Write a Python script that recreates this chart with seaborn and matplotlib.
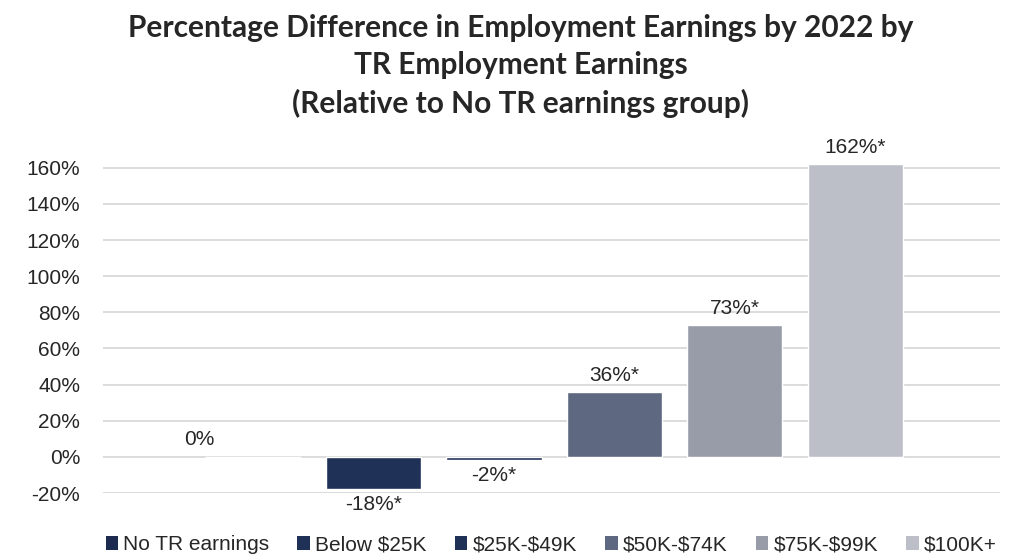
import matplotlib
matplotlib.use('Agg')
import matplotlib.pyplot as plt
import seaborn as sns
import pandas as pd
from matplotlib.patches import Patch

# Data
groups = ['No TR earnings', 'Below $25K', '$25K-$49K', '$50K-$74K', '$75K-$99K', '$100K+']
pct_diff = [0.0, -0.18, -0.02, 0.36, 0.73, 1.62]
bar_labels = ['0%', '-18%*', '-2%*', '36%*', '73%*', '162%*']
colors = ['#1C2B4F', '#1F3157', '#1F3157', '#5E6880', '#989BA8', '#BCBFC8']

df = pd.DataFrame({'group': groups, 'value': pct_diff})

sns.set_style('white')
plt.rcParams['font.family'] = ['Liberation Sans', 'DejaVu Sans']
plt.rcParams['text.parse_math'] = False

fig = plt.figure(figsize=(10.15, 5.56), dpi=100)
ax = fig.add_axes([0.101, 0.1133, 0.884, 0.6173])

sns.barplot(data=df, x='group', y='value', hue='group', palette=colors,
            width=0.79, legend=False, ax=ax, saturation=1)

ax.set_ylim(-0.2, 1.7)
ax.set_xlim(-1.25, 6.2)
ax.set_yticks([-0.2, 0, 0.2, 0.4, 0.6, 0.8, 1.0, 1.2, 1.4, 1.6])
ax.set_yticklabels([f'{round(t * 100)}%' for t in ax.get_yticks()], fontsize=15)
ax.set_xticks([])
ax.set_xlabel('')
ax.set_ylabel('')
ax.grid(axis='y', color='#D9D9D9', linewidth=1.3)
ax.set_axisbelow(True)
ax.tick_params(axis='y', length=0, pad=16)
sns.despine(ax=ax, left=True, bottom=True)

# Value labels
for i, (p, lab) in enumerate(zip(ax.patches, bar_labels)):
    xc = p.get_x() + p.get_width() / 2
    v = pct_diff[i]
    if v > 0:
        ax.annotate(lab, (xc, v), xytext=(0, 5), textcoords='offset points',
                    ha='center', va='bottom', fontsize=15, annotation_clip=False)
    elif v < 0:
        ax.annotate(lab, (xc, v), xytext=(0, -4), textcoords='offset points',
                    ha='center', va='top', fontsize=15, annotation_clip=False)
    else:
        ax.annotate(lab, (xc, v), xytext=(-39, 6), textcoords='offset points',
                    ha='center', va='bottom', fontsize=15, annotation_clip=False)

handles = [Patch(facecolor=c, edgecolor='none') for c in colors]
fig.legend(handles, groups, loc='center', bbox_to_anchor=(0.543, 0.02), ncol=6,
           frameon=False, fontsize=15, handlelength=0.6, handleheight=0.7,
           handletextpad=0.25, columnspacing=1.35, borderaxespad=0)

fig.suptitle('Percentage Difference in Employment Earnings by 2022 by\nTR Employment Earnings\n(Relative to No TR earnings group)',
             fontsize=21.5, fontweight='bold', family=['Lato', 'DejaVu Sans'],
             x=0.513, y=0.975, va='top', linespacing=1.4)

fig.savefig('out.png', dpi=100)
